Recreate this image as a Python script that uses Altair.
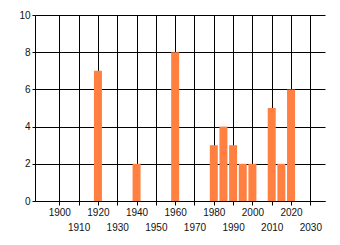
import altair as alt
import pandas as pd

years = [1920, 1940, 1960, 1980, 1985, 1990, 1995, 2000, 2010, 2015, 2020]
counts = [7, 2, 8, 3, 4, 3, 2, 2, 5, 2, 6]
x_ticks = [1900, 1910, 1920, 1930, 1940, 1950, 1960, 1970, 1980, 1990, 2000, 2010, 2020, 2030]
y_ticks = [0, 2, 4, 6, 8, 10]

df = pd.DataFrame({"year": years, "count": counts})

common_axis = dict(
    title=None,
    grid=True,
    gridColor="black",
    gridOpacity=1,
    gridWidth=1,
    domainColor="black",
    domainWidth=1,
    tickColor="black",
    tickWidth=1,
    labelFont="Liberation Sans",
    labelFontSize=10,
    labelColor="#111111",
    labelFlush=False,
    labelOverlap=False,
)

chart = alt.Chart(df).mark_bar(size=8, color="#FF8040").encode(
    x=alt.X(
        "year:Q",
        scale=alt.Scale(domain=[1890, 2035], nice=False, zero=False),
        axis=alt.Axis(
            values=x_ticks,
            format="d",
            labelExpr="datum.value % 20 == 0 ? datum.label : ['', datum.label]",
            labelLineHeight=15,
            tickSize=4,
            labelPadding=2,
            **common_axis,
        ),
    ),
    y=alt.Y(
        "count:Q",
        scale=alt.Scale(domain=[0, 10], nice=False),
        axis=alt.Axis(
            values=y_ticks,
            format="d",
            tickSize=3,
            labelPadding=2,
            **common_axis,
        ),
    ),
).properties(
    width=290,
    height=186,
    padding={"left": 35, "top": 15, "right": 15, "bottom": 44},
    autosize="none",
).configure_view(stroke=None)

chart.save("out.html", embed_options={"renderer": "svg", "actions": False})
